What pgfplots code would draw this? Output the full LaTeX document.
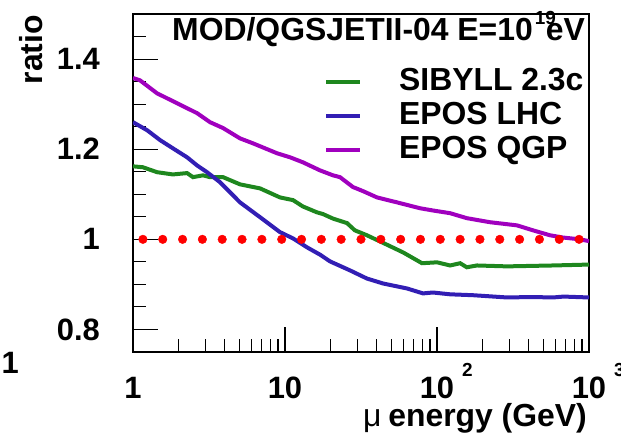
\documentclass[border=0pt]{standalone}
\usepackage{fontspec}
\setmainfont{Liberation Sans}
\usepackage{pgfplots}
\pgfplotsset{compat=1.18}
\definecolor{cgreen}{RGB}{30,135,30}
\definecolor{cblue}{RGB}{50,30,180}
\definecolor{cpurple}{RGB}{160,0,190}
\newcommand{\bigf}{\fontsize{31}{34}\selectfont\bfseries}
\newcommand{\txtf}{\fontsize{32}{35}\selectfont\bfseries}
\newcommand{\sups}[1]{\rlap{\hspace{8bp}\raisebox{22bp}{\fontsize{19}{19}\selectfont\bfseries #1}}}
\begin{document}
\begin{tikzpicture}
\begin{axis}[
  at={(0,0)}, anchor=south west,
  scale only axis, width=456bp, height=338bp,
  xmode=log, xmin=1, xmax=1000, ymin=0.75, ymax=1.5,
  axis line style={line width=1.6bp},
  tick align=inside, xtick pos=left, ytick pos=left,
  xtick={1,10,100,1000},
  xticklabels={1,10,10\sups{2},10\sups{3}},
  minor xtick={2,3,4,5,6,7,8,9,20,30,40,50,60,70,80,90,200,300,400,500,600,700,800,900},
  ytick={0.8,1,1.2,1.4}, yticklabels={0.8,1,1.2,1.4},
  minor ytick={0.85,0.9,0.95,1.05,1.1,1.15,1.25,1.3,1.35,1.45},
  major tick length=25bp, minor tick length=13bp,
  every tick/.style={black, line width=1.1bp},
  xticklabel style={font=\bigf, anchor=base, inner sep=0pt, yshift=-46bp},
  yticklabel style={font=\bigf, anchor=east, inner sep=0pt, xshift=-33bp},
  xlabel={{\mdseries μ}\hspace{-2bp} energy (GeV)},
  xlabel style={font=\txtf, at={(axis description cs:1,0)}, anchor=base east, inner sep=0pt, yshift=-74bp, xshift=-2bp},
  ylabel={ratio},
  ylabel style={font=\txtf, at={(axis description cs:-0.1974,0.997)}, anchor=base east, inner sep=0pt},
  title={MOD/QGSJETII-04 E=10\rlap{\hspace{2bp}\raisebox{16bp}{\fontsize{19}{19}\selectfont\bfseries 19}}\hspace{13bp}eV},
  title style={font=\txtf, at={(axis description cs:0.9912,0.9053)}, anchor=base east, inner sep=0pt},
  legend style={draw=none, fill=none, at={(axis description cs:0.4188,0.836)}, anchor=north west,
    inner sep=0pt, font=\txtf, row sep=13bp, column sep=0bp,
    nodes={inner sep=0pt, text height=21bp, text depth=0pt}},
  legend cell align=left,
  legend image code/.code={\draw[line width=4bp] (0bp,-1.5bp)--(34bp,-1.5bp); \path (71bp,0bp);},
]
\addplot[cgreen, line width=4bp] coordinates {
(1,1.162) (1.16,1.16) (1.44,1.149) (1.83,1.144) (2.27,1.147) (2.48,1.138) (2.89,1.142)
(3.21,1.138) (3.91,1.138) (5.06,1.122) (6.86,1.113) (9.27,1.093) (11.3,1.087) (13.1,1.073)
(16.2,1.06) (17.8,1.056) (20.7,1.046) (25.6,1.036) (28.8,1.02) (34.6,1.009) (46.9,0.988) (59.8,0.971)
(79.7,0.947) (100,0.949) (122,0.942) (142,0.947) (157,0.938) (183,0.942) (289,0.94)
(580,0.942) (1000,0.944)};
\addlegendentry{SIBYLL 2.3c}
\addplot[cblue, line width=4bp] coordinates {
(1,1.26) (1.24,1.242) (1.51,1.22) (1.83,1.202) (2.27,1.182) (2.64,1.164) (3.07,1.149)
(3.73,1.127) (5.06,1.082) (6.86,1.049) (9.27,1.016) (11.3,1.002) (14.0,0.982) (17.0,0.966)
(19.8,0.951) (26.8,0.931) (34.6,0.913) (44.2,0.902) (63.5,0.891) (80.9,0.88) (94,0.882)
(122,0.878) (173,0.876) (289,0.871) (420,0.872) (580,0.871) (680,0.873) (1000,0.871)};
\addlegendentry{EPOS LHC}
\addplot[cpurple, line width=4bp] coordinates {
(1,1.358) (1.11,1.353) (1.44,1.324) (1.95,1.302) (2.64,1.28) (3.21,1.26) (3.91,1.247)
(5.06,1.224) (6.16,1.213) (8.86,1.191) (10.8,1.182) (13.1,1.171) (17.0,1.153) (20.7,1.142)
(23.0,1.138) (28.0,1.116) (32.6,1.107) (40.3,1.093) (54.6,1.082) (77.3,1.069) (94.1,1.064)
(122,1.058) (157,1.047) (223,1.038) (336,1.031) (428,1.02) (554,1.009) (674,1.004)
(873,1.0) (1000,0.996)};
\addlegendentry{EPOS QGP}
\addplot[forget plot, only marks, mark=*, mark size=4.3bp, color=red, mark options={fill=red, draw=red}] coordinates {
(1.162,1) (1.569,1) (2.119,1) (2.861,1) (3.864,1) (5.218,1) (7.046,1) (9.512,1)
(12.85,1) (17.34,1) (23.42,1) (31.62,1) (42.70,1) (57.66,1) (77.86,1) (105.1,1)
(142.0,1) (191.7,1) (258.8,1) (349.5,1) (472.0,1) (637.4,1) (860.7,1)};
\end{axis}
\node[font=\bigf, anchor=base east, inner sep=0pt] at (-114bp,-21bp) {1};
\pgfresetboundingbox
\useasboundingbox (-133bp,-85bp) rectangle (488bp,352bp);
\end{tikzpicture}
\end{document}
